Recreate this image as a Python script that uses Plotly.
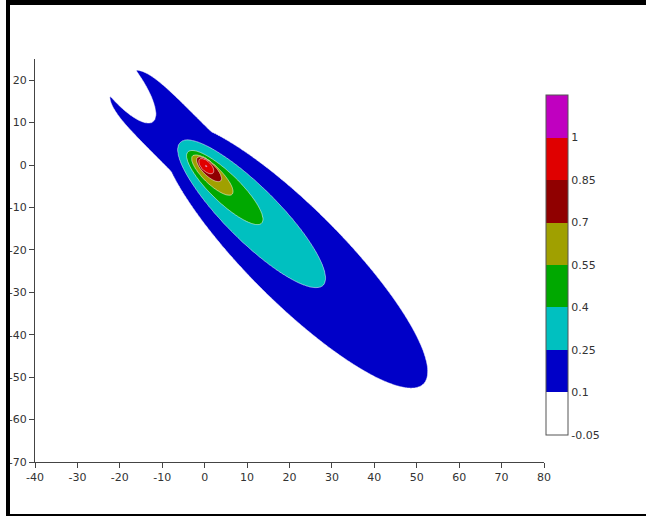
import numpy as np
import plotly.graph_objects as go

# ---- data ----
# contour level boundaries shown on the colour bar
level_values = [-0.05, 0.1, 0.25, 0.4, 0.55, 0.7, 0.85, 1.0]
level_labels = ["-0.05", "0.1", "0.25", "0.4", "0.55", "0.7", "0.85", "1"]
bar_top_value = 1.15
band_colors = ["#FFFFFF", "#0000C8", "#00C0C0", "#00A800", "#A0A000",
               "#900000", "#E00000", "#C000C0"]

# outer (0.1) iso-line: union of lobes minus the upwind notch
# (centre x, centre y, semi axes, angle in degrees, shape power)
lobe_cx = [21.2, -6.2]
lobe_cy = [-21.2, 6.2]
lobe_a = [43.0, 19.5]
lobe_b = [11.1, 6.6]
lobe_angle = [-45.0, -45.0]
lobe_power = [2.0, 4.0]
notch_cx, notch_cy, notch_a, notch_b, notch_angle = -20.3, 20.6, 13.2, 4.3, -52.0

# inner iso-lines 0.25, 0.4, 0.55, 0.7, 0.85 (ellipses)
iso_levels = [0.25, 0.4, 0.55, 0.7, 0.85]
iso_cx = [11.1, 4.74, 1.80, 1.05, 0.35]
iso_cy = [-11.53, -5.30, -2.37, -0.98, -0.25]
iso_a = [23.8, 12.1, 6.5, 3.9, 2.3]
iso_b = [6.3, 3.4, 2.1, 1.5, 1.15]
iso_angle = [-45.0, -44.0, -44.0, -45.0, -45.0]
peak_value = 1.02

x_ticks = list(range(-40, 81, 10))
x_tick_labels = ["-40", "-30", "-20", "-10", "0", "10", "20", "30", "40", "50", "60", "70", "80"]
y_ticks = list(range(-70, 21, 10))
y_tick_labels = ["-70", "-60", "-50", "-40", "-30", "-20", "-10", "0", "10", "20"]

# ---- build the gridded field from the read iso-lines ----
xs = np.round(np.arange(-35, 65.001, 0.25), 3)
ys = np.round(np.arange(-65, 30.001, 0.25), 3)
X, Y = np.meshgrid(xs, ys)


def radius(cx, cy, a, b, ang, p=2.0):
    t = np.deg2rad(ang)
    dx, dy = X - cx, Y - cy
    du = dx * np.cos(t) + dy * np.sin(t)
    dv = -dx * np.sin(t) + dy * np.cos(t)
    return (np.abs(du / a) ** p + np.abs(dv / b) ** p) ** (1.0 / p)


r_union = np.min([radius(*args) for args in zip(lobe_cx, lobe_cy, lobe_a, lobe_b, lobe_angle, lobe_power)], axis=0)
r_notch = radius(notch_cx, notch_cy, notch_a, notch_b, notch_angle)
r_outer = np.maximum(r_union, 2.0 - r_notch)

R = [r_outer] + [radius(*args) for args in zip(iso_cx, iso_cy, iso_a, iso_b, iso_angle)]
L = [0.1] + iso_levels

Z = np.clip(0.1 - 0.15 * (R[0] - 1.0), -0.04, 0.1)
for k in range(len(R) - 1):
    inside = R[k] <= 1.0
    a_ = 1.0 - R[k]
    b_ = np.maximum(R[k + 1] - 1.0, 0.0)
    t = a_ / np.maximum(a_ + b_, 1e-9)
    Z = np.where(inside, L[k] + (L[k + 1] - L[k]) * t, Z)
Z = np.where(R[-1] <= 1.0, L[-1] + (peak_value - L[-1]) * (1.0 - R[-1]), Z)
Z = np.round(Z, 4)

# colour scale for the contour fill: band [L, L+size] painted with colour at s=(L-start+size)/(n*size)
n_levels = len(level_values)
cscale = [[0.0, band_colors[0]]]
for i, c in enumerate(band_colors):
    cscale.append([(i + 1) / n_levels, c])

# stepped colour scale for the separate colour bar covering [-0.05, 1.15]
n_bands = len(band_colors)
bar_scale = []
for i, c in enumerate(band_colors):
    bar_scale.append([i / n_bands, c])
    bar_scale.append([(i + 1) / n_bands, c])

W, H, ML, MR, MT, MB = 646, 517, 35, 102, 59, 55
pw, ph = W - ML - MR, H - MT - MB
BAR_X0, BAR_X1, BAR_TOP, BAR_BOT = 546, 568, 95, 435

fig = go.Figure()
fig.add_trace(go.Contour(
    x=xs, y=ys, z=Z,
    autocontour=False,
    contours=dict(start=level_values[0], end=level_values[-1], size=0.15,
                  coloring="fill", showlines=True),
    line=dict(color="rgba(255,255,255,0.65)", width=0.8),
    colorscale=cscale,
    showscale=False,
    hoverinfo="skip",
))
fig.add_trace(go.Scatter(
    x=[-1000], y=[-1000], mode="markers", hoverinfo="skip", showlegend=False,
    marker=dict(color=[level_values[0]], cmin=level_values[0], cmax=bar_top_value,
                colorscale=bar_scale, showscale=True, size=1,
                colorbar=dict(
                    x=(BAR_X0 - ML) / pw, xanchor="left", xpad=0,
                    y=(H - MB - (BAR_TOP + BAR_BOT) / 2) / ph, yanchor="middle", ypad=0,
                    len=BAR_BOT - BAR_TOP, lenmode="pixels",
                    thickness=BAR_X1 - BAR_X0, thicknessmode="pixels",
                    outlinecolor="#555555", outlinewidth=1,
                    tickvals=level_values, ticktext=level_labels,
                    ticks="", tickfont=dict(family="DejaVu Sans", size=11, color="#333333"),
                )),
))

axis_common = dict(showgrid=False, zeroline=False, showline=True, linecolor="#444444",
                   linewidth=1, ticks="outside", ticklen=5, tickcolor="#444444", automargin=False,
                   tickfont=dict(family="DejaVu Sans", size=11, color="#333333"))
fig.update_xaxes(range=[-40, 80], tickvals=x_ticks, ticktext=x_tick_labels, **axis_common)
fig.update_yaxes(range=[-70, 25], tickvals=y_ticks, ticktext=y_tick_labels, **axis_common)


def px(xp):
    return (xp - ML) / pw


def py(yp):
    return (H - MB - yp) / ph


# black frame around the picture
frame = [
    (6, 0, 646, 5),
    (6, 0, 10, 515),
    (6, 514, 646, 516),
]
shapes = [dict(type="rect", xref="paper", yref="paper", x0=px(a), x1=px(c), y0=py(d), y1=py(b),
               fillcolor="black", line=dict(width=0), layer="above") for a, b, c, d in frame]
# thin separators between the colour-bar bands
for lv in level_values[1:]:
    yy = BAR_BOT - (lv - level_values[0]) / (bar_top_value - level_values[0]) * (BAR_BOT - BAR_TOP)
    shapes.append(dict(type="line", xref="paper", yref="paper", x0=px(BAR_X0), x1=px(BAR_X1),
                       y0=py(yy), y1=py(yy), line=dict(color="rgba(40,0,0,0.55)", width=1)))

fig.update_layout(
    width=W, height=H,
    margin=dict(l=ML, r=MR, t=MT, b=MB, autoexpand=False),
    paper_bgcolor="white", plot_bgcolor="white",
    showlegend=False,
    shapes=shapes,
    font=dict(family="DejaVu Sans", size=11, color="#333333"),
)
fig.write_html("out.html")
